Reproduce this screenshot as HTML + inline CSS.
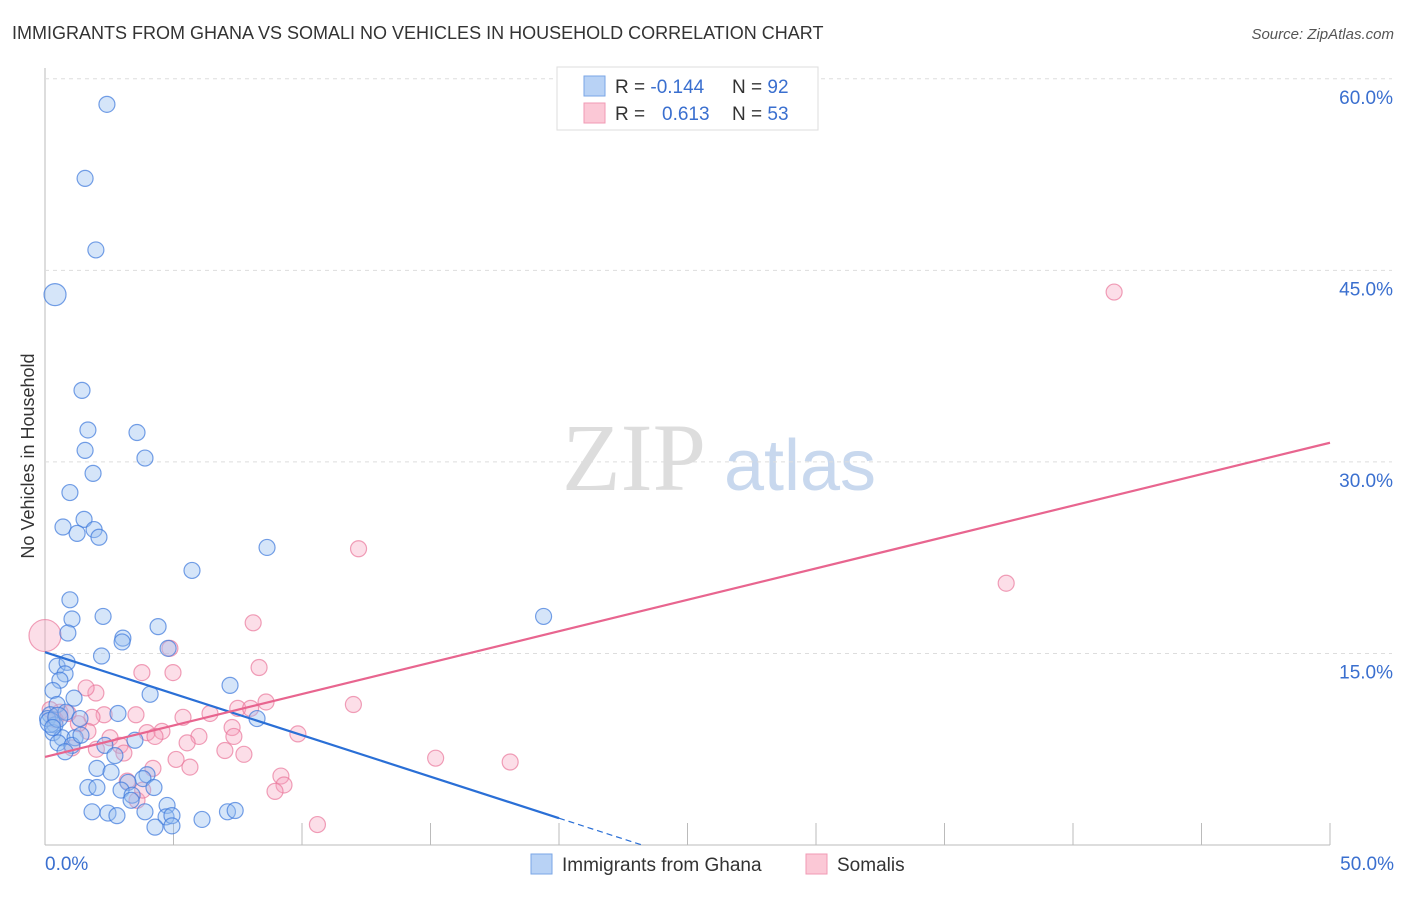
<!DOCTYPE html>
<html><head><meta charset="utf-8"><style>
body{margin:0;background:#fff;font-family:"Liberation Sans",sans-serif;}
svg text{font-family:"Liberation Sans",sans-serif;}
</style></head><body>
<svg id="c" width="1406" height="892" xmlns="http://www.w3.org/2000/svg">
<text x="12" y="39" font-size="18" fill="#333">IMMIGRANTS FROM GHANA VS SOMALI NO VEHICLES IN HOUSEHOLD CORRELATION CHART</text>
<text x="1394" y="39" font-size="15" fill="#555" font-style="italic" text-anchor="end">Source: ZipAtlas.com</text>
<text x="634" y="490" font-size="96" fill="#ddd" font-family="Liberation Serif" text-anchor="middle" style="font-family:'Liberation Serif',serif">ZIP</text>
<text x="800" y="490" font-size="72" fill="#c8d8ee" text-anchor="middle">atlas</text>
<text transform="translate(34,456) rotate(-90)" font-size="18" fill="#333" text-anchor="middle">No Vehicles in Household</text>
<g id="grid"></g><g id="pts"></g><g id="lines"></g>
<g>
<rect x="557" y="67" width="261" height="63" fill="#fff" stroke="#ddd"/>
<rect x="584" y="76" width="21" height="20" fill="#b8d2f5" stroke="#7aa6e6"/>
<rect x="584" y="103" width="21" height="20" fill="#fbc8d6" stroke="#f09ab4"/>
<text x="615" y="93" font-size="19" fill="#333">R = <tspan fill="#3a6fcf">-0.144</tspan></text>
<text x="732" y="93" font-size="19" fill="#333">N = <tspan fill="#3a6fcf">92</tspan></text>
<text x="615" y="120" font-size="19" fill="#333">R = </text>
<text x="662" y="120" font-size="19" fill="#3a6fcf">0.613</text>
<text x="732" y="120" font-size="19" fill="#333">N = <tspan fill="#3a6fcf">53</tspan></text>
</g>
<g>
<rect x="531" y="854" width="21" height="20" fill="#b8d2f5" stroke="#7aa6e6"/>
<text x="562" y="871" font-size="19" fill="#333">Immigrants from Ghana</text>
<rect x="806" y="854" width="21" height="20" fill="#fbc8d6" stroke="#f09ab4"/>
<text x="837" y="871" font-size="19" fill="#333">Somalis</text>
</g>
</svg>
<script>
const xTicks=[0,5,10,15,20,25,30,35,40,45,50];
const yTicks=[15,30,45,60];
const blueX=[2.41,1.56,1.98,0.39,1.44,1.67,3.58,1.56,3.89,1.87,0.97,1.52,0.7,1.25,1.91,2.1,8.64,5.72,0.97,19.4,2.26,1.05,4.4,0.89,3.03,3.0,4.79,2.2,0.47,0.86,0.78,0.58,7.2,0.31,4.09,1.13,0.47,0.2,0.1,0.82,2.84,8.25,1.36,0.39,0.31,0.66,1.17,3.5,0.51,1.05,2.33,0.78,2.72,2.02,2.57,3.97,3.81,3.23,4.24,1.67,2.02,2.96,3.39,3.35,4.75,1.83,2.45,2.8,3.89,4.71,4.94,4.28,4.94,6.11,7.1,7.4,0.2,0.5,1.4,0.3];
const blueY=[58.0,52.2,46.6,43.1,35.6,32.5,32.3,30.9,30.3,29.1,27.6,25.5,24.9,24.4,24.7,24.1,23.3,21.5,19.2,17.9,17.9,17.7,17.1,16.6,16.2,15.9,15.4,14.8,14.0,14.3,13.4,12.9,12.5,12.1,11.8,11.5,11.0,10.2,9.9,10.4,10.3,9.9,9.9,9.4,8.8,8.4,8.4,8.2,8.0,7.8,7.8,7.3,7.0,6.0,5.7,5.5,5.2,4.9,4.5,4.5,4.5,4.3,3.9,3.5,3.1,2.6,2.5,2.3,2.6,2.2,2.3,1.4,1.5,2.0,2.6,2.7,9.6,10.0,8.6,9.2];
const blueR=[8,8,8,11,8,8,8,8,8,8,8,8,8,8,8,8,8,8,8,8,8,8,8,8,8,8,8,8,8,8,8,8,8,8,8,8,8,8,8,8,8,8,8,8,8,8,8,8,8,8,8,8,8,8,8,8,8,8,8,8,8,8,8,8,8,8,8,8,8,8,8,8,8,8,8,8,10,10,8,8];
const pinkX=[0,41.6,12.2,37.4,8.1,4.86,8.33,3.77,4.98,1.98,1.6,8.6,12.0,7.5,8.0,6.42,5.37,3.54,2.3,1.83,0.58,7.28,9.84,3.97,4.55,4.28,7.35,5.99,2.53,1.67,2.92,5.53,7.0,1.05,7.74,3.07,15.2,18.1,5.1,5.64,4.2,9.18,9.3,8.95,3.58,10.6,0.4,0.9,1.3,2.0,3.2,0.2,3.8];
const pinkY=[16.4,43.3,23.2,20.5,17.4,15.4,13.9,13.5,13.5,11.9,12.3,11.2,11.0,10.7,10.7,10.3,10.0,10.2,10.2,10.0,10.4,9.2,8.7,8.8,8.9,8.5,8.5,8.5,8.4,8.9,7.8,8.0,7.4,7.6,7.1,7.2,6.8,6.5,6.7,6.1,6.0,5.4,4.7,4.2,3.5,1.6,9.8,10.3,9.5,7.5,5.0,10.6,4.3];
const blueTrend=[15.1,-0.65];
const pinkTrend=[6.9,0.492];
const NS='http://www.w3.org/2000/svg';
const X=v=>45+v*25.7, Y=v=>845-v*12.77;
function mk(t,a,p){const e=document.createElementNS(NS,t);for(const k in a)e.setAttribute(k,a[k]);p.appendChild(e);return e;}
const g=document.getElementById('grid');
let ax=mk('line',{x1:45,y1:68,x2:45,y2:845,stroke:'#bbb'},g);


let bx=mk('line',{x1:45,y1:845,x2:1330,y2:845,stroke:'#bbb'},g);


yTicks.forEach(v=>{
 const l=mk('line',{x1:45,y1:Y(v),x2:1392,y2:Y(v),stroke:'#ddd','stroke-dasharray':'4,4'},g);
 
 
 const t=mk('text',{x:1393,y:Y(v)+25,'font-size':19,fill:'#3a6fcf','text-anchor':'end'},g);t.textContent=v.toFixed(1)+'%';
 
 
});
xTicks.forEach(v=>{
 const l=mk('line',{x1:X(v),y1:845,x2:X(v),y2:v===0?845:823,stroke:'#bbb'},g);
 
 
});
[[0,'start',45],[50,'end',1394]].forEach(([v,a,x])=>{
 const t=mk('text',{x:x,y:870,'font-size':19,fill:'#3a6fcf','text-anchor':a},g);t.textContent=v.toFixed(1)+'%';
 
 
});
const P=document.getElementById('pts');
pinkX.forEach((x,i)=>{
 const c=mk('circle',{cx:X(x),cy:Y(pinkY[i]),r:i===0?16:8,fill:'rgba(246,160,188,0.35)',stroke:'rgba(234,120,155,0.7)','stroke-width':1.2},P);
 
 
});
blueX.forEach((x,i)=>{
 const c=mk('circle',{cx:X(x),cy:Y(blueY[i]),r:blueR[i],fill:'rgba(150,190,240,0.4)',stroke:'rgba(60,120,220,0.7)','stroke-width':1.2},P);
 
 
});
const L=document.getElementById('lines');
const bEnd=20;
let l1=mk('line',{x1:X(0),y1:Y(blueTrend[0]),x2:X(bEnd),y2:Y(blueTrend[0]+blueTrend[1]*bEnd),stroke:'#2a6fd6','stroke-width':2.2},L);


const z=-blueTrend[0]/blueTrend[1];
let l2=mk('line',{x1:X(bEnd),y1:Y(blueTrend[0]+blueTrend[1]*bEnd),x2:X(z),y2:Y(0),stroke:'#2a6fd6','stroke-width':1.2,'stroke-dasharray':'6,4'},L);


let l3=mk('line',{x1:X(0),y1:Y(pinkTrend[0]),x2:X(50),y2:Y(pinkTrend[0]+pinkTrend[1]*50),stroke:'#e8658f','stroke-width':2.2},L);


</script>
</body></html>
